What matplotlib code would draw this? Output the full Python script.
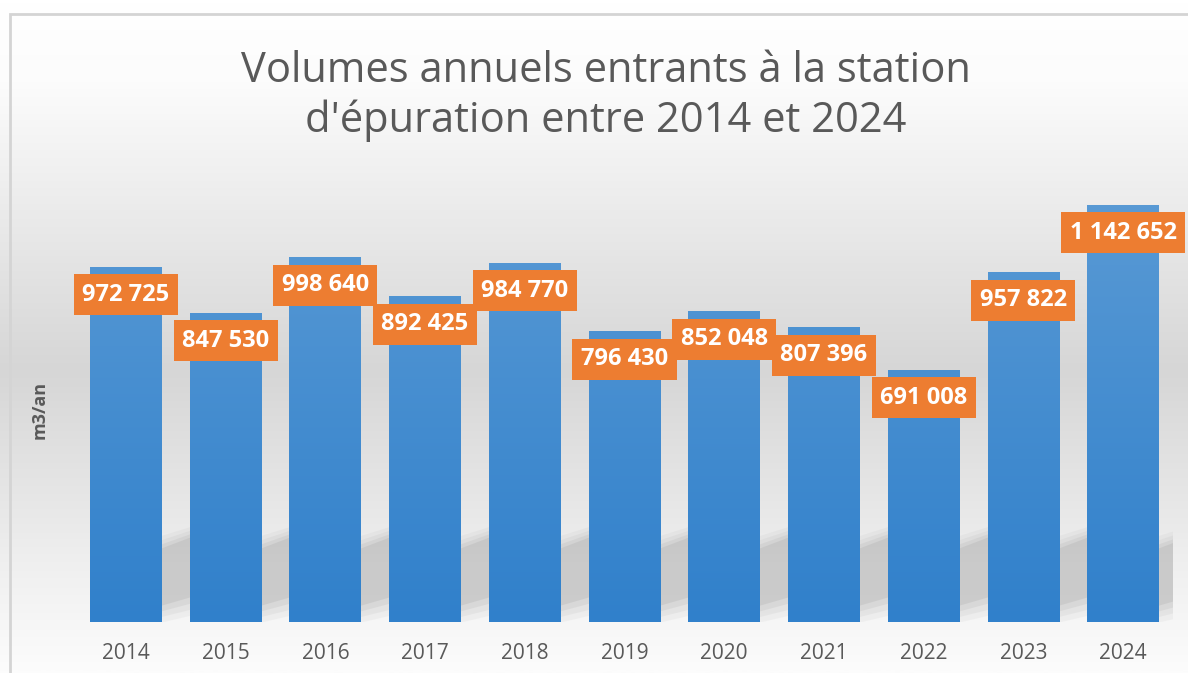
import matplotlib.pyplot as plt
import numpy as np
from matplotlib.colors import LinearSegmentedColormap
from matplotlib.patches import Polygon, Rectangle


years = ["2014", "2015", "2016", "2017", "2018", "2019", "2020", "2021", "2022", "2023", "2024"]
volumes = [972725, 847530, 998640, 892425, 984770, 796430, 852048, 807396, 691008, 957822, 1142652]
value_labels = ["972 725", "847 530", "998 640", "892 425", "984 770", "796 430",
                "852 048", "807 396", "691 008", "957 822", "1 142 652"]

title = "Volumes annuels entrants à la station\nd'épuration entre 2014 et 2024"
y_label = "m3/an"

W, H = 1188, 673
DPI = 100
TEXT_GREY = "#595959"
ORANGE = "#ED7D31"

plt.rcParams["font.family"] = ["Open Sans", "DejaVu Sans"]

fig = plt.figure(figsize=(W / DPI, H / DPI), dpi=DPI)

# background: vertical grey gradient, light at top and bottom
bg = fig.add_axes([0, 0, 1, 1], zorder=-10)
bg_cmap = LinearSegmentedColormap.from_list(
    "bg", [(0.0, "#ffffff"), (0.12, "#fcfcfc"), (0.55, "#d6d6d6"), (0.85, "#f0f0f0"), (1.0, "#fcfcfc")]
)
grad = np.linspace(0, 1, 400).reshape(-1, 1)
bg.imshow(grad, aspect="auto", cmap=bg_cmap, extent=[0, 1, 0, 1], origin="upper")
bg.add_patch(Rectangle((9.5 / W, -0.1), 1.2, (H - 13.5) / H + 0.1, fill=False,
                       edgecolor="#d4d4d4", linewidth=2, transform=bg.transAxes))
bg.set_xlim(0, 1)
bg.set_ylim(0, 1)
bg.axis("off")

ax = fig.add_axes([76 / W, 51 / H, 1097 / W, 438 / H])
ax.set_xlim(-0.5, len(years) - 0.5)
ax.set_ylim(0, 1200000)
ax.patch.set_alpha(0)

x = np.arange(len(years))
bar_w = 0.72
px = 1200000 / 438  # data units per pixel, vertically

# soft perspective shadows behind bars
for xi in x:
    xr = xi + bar_w / 2
    for k, alpha in enumerate([0.08, 0.10, 0.14, 0.20]):
        grow = (3 - k) * 5
        pts = [
            (xi, (6 - grow) * px),
            (xr + 0.3 + grow / 100, (25 - grow) * px),
            (xr + 0.3 + grow / 100, (85 + grow) * px),
            (xi, (60 + grow) * px),
        ]
        ax.add_patch(Polygon(pts, closed=True, facecolor="#9a9a9a", edgecolor="none",
                             alpha=alpha, zorder=1))

bars = ax.bar(x, volumes, width=bar_w, color="#4a8fd3", zorder=2)

bar_cmap = LinearSegmentedColormap.from_list("bar", ["#3080cb", "#5b9bd5"])
for rect in bars:
    x0 = rect.get_x()
    img = ax.imshow(np.linspace(0, 1, 256).reshape(-1, 1), cmap=bar_cmap, origin="lower",
                    aspect="auto", extent=[x0, x0 + rect.get_width(), 0, 1200000], zorder=3)
    img.set_clip_path(rect)

for xi, v, lab in zip(x, volumes, value_labels):
    ax.text(xi, v - 28 * px, lab, ha="center", va="center", color="white",
            fontsize=17, fontweight="bold", zorder=5,
            bbox=dict(boxstyle="square,pad=0.36", facecolor=ORANGE, edgecolor="none"))

ax.set_xticks(x)
ax.set_xticklabels(years, fontsize=15, color=TEXT_GREY)
ax.tick_params(axis="x", length=0, pad=15)
ax.set_yticks([])
for side in ["top", "right", "left", "bottom"]:
    ax.spines[side].set_visible(False)

fig.text(40 / W, 1 - 410 / H, y_label, rotation=90, ha="center", va="center",
         fontsize=13, fontweight="bold", color=TEXT_GREY)
fig.text(606 / W, 1 - 96 / H, title, ha="center", va="center", fontsize=30,
         color=TEXT_GREY, linespacing=1.2)

fig.savefig("out.png", dpi=DPI)
